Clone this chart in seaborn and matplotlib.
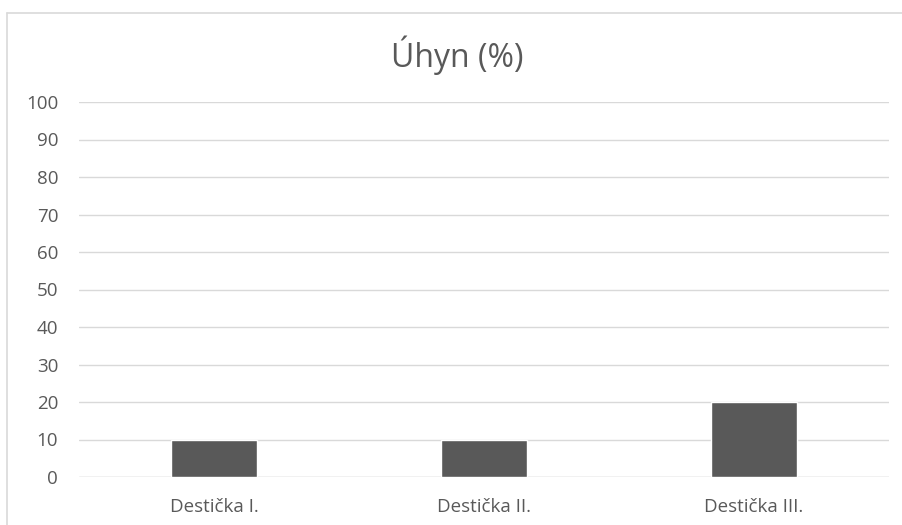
import matplotlib
matplotlib.use("Agg")
import matplotlib.pyplot as plt
import seaborn as sns
import pandas as pd
from matplotlib.lines import Line2D

categories = ["Destička I.", "Destička II.", "Destička III."]
values = [10, 10, 20]
yticks = [0, 10, 20, 30, 40, 50, 60, 70, 80, 90, 100]
title = "Úhyn (%)"

sns.set_theme(style="white")
plt.rcParams['font.family'] = ['Open Sans', 'DejaVu Sans']

df = pd.DataFrame({"cat": categories, "val": values})

W, H = 902, 525
fig = plt.figure(figsize=(W / 100, H / 100), dpi=100)
ax = fig.add_axes([79 / W, 1 - 477 / H, 810 / W, 375 / H])

sns.barplot(data=df, x="cat", y="val", color="#595959", width=0.315,
            saturation=1, ax=ax, zorder=3)

ax.set_ylim(0, 100)
ax.set_xlim(-0.5, 2.5)
ax.set_yticks(yticks)
ax.set_yticklabels([str(t) for t in yticks])
ax.yaxis.grid(True, color="#d9d9d9", linewidth=1, zorder=0)
ax.set_axisbelow(True)
for s in ax.spines.values():
    s.set_visible(False)
ax.axhline(0, color="#d9d9d9", linewidth=1, zorder=1)
ax.set_xlabel("")
ax.set_ylabel("")
ax.tick_params(axis="both", length=0, colors="#595959", labelsize=13.5)
ax.tick_params(axis="y", pad=15)
ax.tick_params(axis="x", pad=15)

fig.text(457 / W, 1 - 55 / H, title, ha="center", va="center",
         fontsize=23, color="#595959")

# chart border
fig.add_artist(Line2D([6.5 / W, 6.5 / W], [0, 1 - 12.5 / H],
                      transform=fig.transFigure, color="#d9d9d9", linewidth=1.2))
fig.add_artist(Line2D([6.5 / W, 1], [1 - 12.5 / H, 1 - 12.5 / H],
                      transform=fig.transFigure, color="#d9d9d9", linewidth=1.2))

fig.savefig("out.png", dpi=100, facecolor="white")
